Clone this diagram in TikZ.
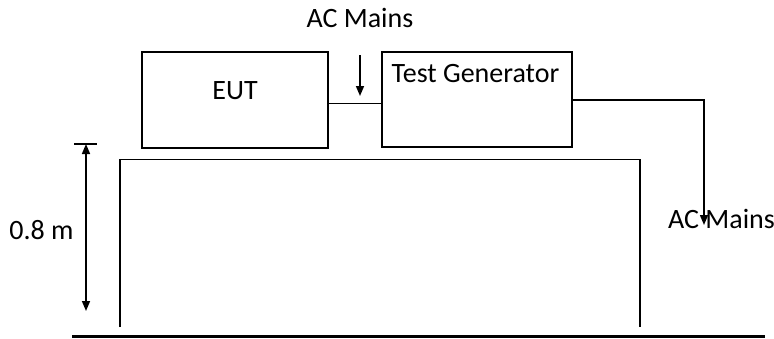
\documentclass[tikz,border=0pt]{standalone}
\usepackage{fontspec}
\setmainfont{Carlito}
\usetikzlibrary{arrows.meta}
\begin{document}
\begin{tikzpicture}[x=1pt,y=-1pt,
  box/.style={draw, line width=1.5pt, inner sep=0pt},
  lbl/.style={font=\fontsize{28}{32}\selectfont, inner sep=0pt, anchor=base},
  wire/.style={line width=1.5pt},
  tip/.style={-{Triangle[length=10pt,width=8pt]}}]
\useasboundingbox (0,0) rectangle (774,338);
% boxes
\node[box, minimum width=186pt, minimum height=96pt] (eut) at (235,100) {};
\node[lbl] (eutl) at (235,99) {EUT};
\node[box, minimum width=190pt, minimum height=95pt] (tg) at (477,99.5) {};
\node[lbl] (tgl) at (475.5,82) {Test Generator};
% link EUT - TG
\coordinate (l1) at (328,103.5);
\draw[wire] (l1) -- (l1 -| tg.west);
% AC mains top
\node[lbl] (ac1) at (360,27) {AC Mains};
\coordinate (a1s) at (360,55);
\coordinate (a1e) at (360,96);
\draw[wire, tip] (a1s) -- (a1e);
% AC mains right
\node[lbl, anchor=base west] (ac2) at (668,228) {AC Mains};
\coordinate (t1) at (572,100);
\coordinate (t2) at (704,100);
\coordinate (t3) at (704,225);
\draw[wire, tip] (t1) -- (t2) -- (t3);
% table
\coordinate (tbl1) at (120,327);
\coordinate (tbl2) at (120,159.5);
\coordinate (tbl3) at (640,159.5);
\coordinate (tbl4) at (640,327);
\draw[wire] (tbl1) -- (tbl2) -- (tbl3) -- (tbl4);
% floor
\coordinate (f1) at (72,336);
\coordinate (f2) at (765,336);
\draw[line width=3pt] (f1) -- (f2);
% dimension
\coordinate (d1) at (74,144);
\coordinate (d2) at (97,144);
\draw[line width=2pt] (d1) -- (d2);
\coordinate (da) at (86,144);
\coordinate (db) at (86,311);
\draw[wire, {Triangle[length=10pt,width=8pt]}-{Triangle[length=10pt,width=8pt]}] (da) -- (db);
\node[lbl] (dim) at (41.5,239) {0.8 m};
\end{tikzpicture}
\end{document}
